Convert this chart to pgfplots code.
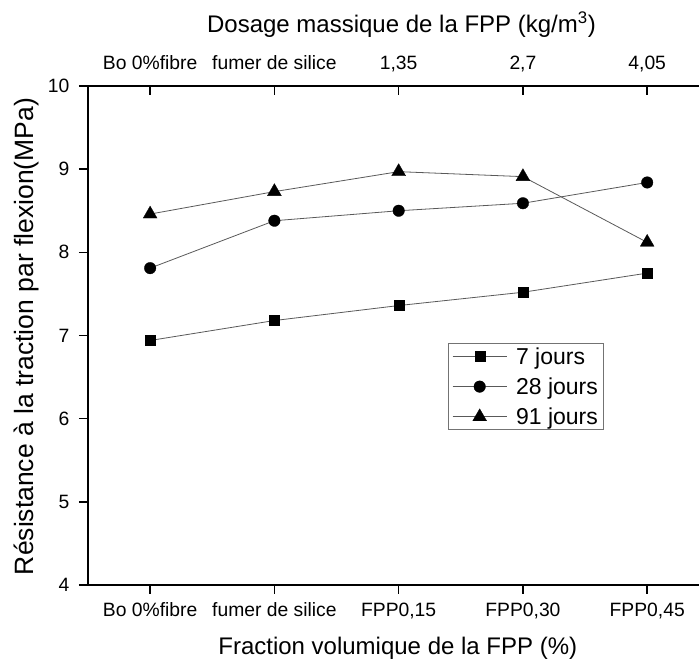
\documentclass[border=0pt]{standalone}
\usepackage{fontspec}
\setmainfont{Liberation Sans}
\usepackage{pgfplots}
\pgfplotsset{compat=1.18}

\newcommand{\tickfont}{\fontsize{19.3}{23}\selectfont}
\newcommand{\labfont}{\fontsize{24}{28}\selectfont}
\newcommand{\ylabfont}{\fontsize{26.5}{30}\selectfont}
\newcommand{\legfont}{\fontsize{23}{27}\selectfont}

\begin{document}
\begin{tikzpicture}
\pgfplotsset{
  base/.style={
    at={(0,0)}, anchor=south west, scale only axis,
    width=611pt, height=499pt,
    xmin=-0.5, xmax=4.417, ymin=4, ymax=10,
    xtick={0,1,2,3,4},
    major tick length=9pt,
    every tick/.style={line width=1.4pt, black},
    tick label style={font=\tickfont},
    /pgf/number format/assume math mode=true,
  },
  nolinearrows/.style={
    axis line style={-, line width=1.4pt},
    every outer x axis line/.append style={-},
    every outer y axis line/.append style={-},
    every inner x axis line/.append style={-},
    every inner y axis line/.append style={-},
  },
  series/.style={color=black!65, line width=0.8pt,
    mark options={fill=black, draw=black, solid, line width=0.3pt}},
}
% bottom and left axes, with the data
\begin{axis}[base,
  axis x line=bottom, axis y line=left, nolinearrows,
  tick align=outside,
  xticklabels={Bo 0\%fibre, fumer de silice, {FPP0,15}, {FPP0,30}, {FPP0,45}},
  xticklabel style={anchor=base, yshift=-23pt},
  ytick={4,5,6,7,8,9,10},
  yticklabel style={xshift=-6pt},
  xlabel={Fraction volumique de la FPP (\%)},
  xlabel style={font=\labfont, at={(axis description cs:0.507,0)}, anchor=base, yshift=-70pt},
  ylabel={Résistance à la traction par flexion(MPa)},
  ylabel style={font=\ylabfont, at={(axis description cs:-0.089,0.498)}, anchor=base},
  legend style={at={(0.589,0.485)}, anchor=north west, draw=black!55,
    line width=0.8pt, font=\legfont, inner xsep=4pt, inner ysep=3pt,
    nodes={inner sep=1pt}, row sep=10pt,
    /tikz/every odd column/.append style={column sep=8pt},
    cells={anchor=west}},
  legend image code/.code={\draw[mark repeat=2, mark phase=2, #1]
    plot coordinates {(0pt,0pt) (27pt,0pt) (54pt,0pt)};},
]
\addplot[series, mark=square*, mark size=5pt] coordinates {
  (0,6.94) (1,7.18) (2,7.36) (3,7.52) (4,7.75)};
\addplot[series, mark=*, mark size=5.8pt] coordinates {
  (0,7.81) (1,8.38) (2,8.50) (3,8.59) (4,8.84)};
\addplot[series, mark=triangle*, mark size=8pt] coordinates {
  (0,8.46) (1,8.73) (2,8.97) (3,8.91) (4,8.12)};
\legend{7 jours, 28 jours, 91 jours}
\end{axis}
% top axis
\begin{axis}[base,
  axis x line=top, axis y line=none, nolinearrows,
  tick align=inside,
  xticklabels={Bo 0\%fibre, fumer de silice, {1,35}, {2,7}, {4,05}},
  xticklabel style={anchor=base, yshift=16pt},
  ytick=\empty,
  xlabel={Dosage massique de la FPP (kg/m\textsuperscript{3})},
  xlabel style={font=\labfont, at={(axis description cs:0.513,1)}, anchor=base, yshift=53pt},
]
\end{axis}
\pgfresetboundingbox
\path[use as bounding box] (-88pt,-76pt) rectangle (611pt,585pt);
\end{tikzpicture}
\end{document}
